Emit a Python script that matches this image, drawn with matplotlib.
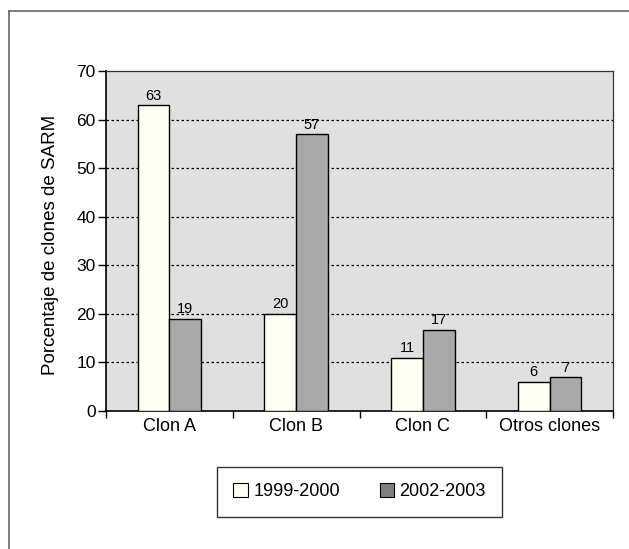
import matplotlib
matplotlib.use("Agg")
import matplotlib.pyplot as plt
from matplotlib.lines import Line2D
from matplotlib.patches import Patch
import numpy as np

categories = ["Clon A", "Clon B", "Clon C", "Otros clones"]
period_1999 = [63, 20, 11, 6]
period_2002 = [19, 57, 16.7, 7]
series_labels = ["1999-2000", "2002-2003"]
y_ticks = [0, 10, 20, 30, 40, 50, 60, 70]

plt.rcParams["font.family"] = ["Liberation Sans", "DejaVu Sans"]

fig = plt.figure(figsize=(6.29, 5.49), dpi=100)
ax = fig.add_axes([106 / 629, 1 - 411 / 549, 507 / 629, 340 / 549])
ax.set_facecolor("#e0e0e0")

x = np.arange(len(categories))
width = 0.25
light = "#fffff3"
dark = "#a9a9a9"

bars1 = ax.bar(x - width / 2, period_1999, width, color=light, edgecolor="black", linewidth=1.0, zorder=3)
bars2 = ax.bar(x + width / 2, period_2002, width, color=dark, edgecolor="black", linewidth=1.0, zorder=3)

for bars in (bars1, bars2):
    for bar in bars:
        h = bar.get_height()
        ax.text(bar.get_x() + bar.get_width() / 2, h + 0.5, f"{h:.0f}",
                ha="center", va="bottom", fontsize=10.5, zorder=4)

ax.set_xlim(-0.5, len(categories) - 0.5)
ax.set_ylim(0, 70)
ax.set_yticks(y_ticks)
ax.tick_params(axis="y", labelsize=12.5, direction="out", length=5.5, width=1, pad=2)

ax.set_xticks(x)
ax.set_xticklabels(categories, fontsize=13)
ax.set_xticks(np.arange(-0.5, len(categories), 1.0), minor=True)
ax.tick_params(axis="x", which="major", length=0, pad=5)
ax.tick_params(axis="x", which="minor", length=5, width=1, direction="out")

for yv in y_ticks[1:-1]:
    ax.axhline(yv, color="black", linestyle=(0, (2, 2)), linewidth=0.9, zorder=1)

for side in ("left", "bottom"):
    ax.spines[side].set_color("black")
    ax.spines[side].set_linewidth(1.2)
for side in ("top", "right"):
    ax.spines[side].set_color("#333333")
    ax.spines[side].set_linewidth(0.9)

ax.set_ylabel("Porcentaje de clones de SARM", fontsize=13.5)
ax.yaxis.set_label_coords(-0.093, 0.488)

# outer frame (only left and top edges visible)
fig.add_artist(Line2D([9 / 629, 9 / 629], [0, 1 - 11 / 549], transform=fig.transFigure,
                      color="#666666", linewidth=1.2))
fig.add_artist(Line2D([9 / 629, 1], [1 - 11 / 549, 1 - 11 / 549], transform=fig.transFigure,
                      color="#666666", linewidth=1.2))

handles = [Patch(facecolor=light, edgecolor="black", linewidth=0.8),
           Patch(facecolor="#808080", edgecolor="black", linewidth=0.8)]
leg = fig.legend(handles, series_labels, loc="center", ncol=2,
                 bbox_to_anchor=(0.5716, 0.104), bbox_transform=fig.transFigure,
                 fontsize=13, frameon=True, fancybox=False, edgecolor="black",
                 handlelength=0.8, handleheight=0.8, handletextpad=0.3,
                 columnspacing=2.2, borderpad=0.9)
leg.get_frame().set_linewidth(1.0)

plt.savefig("out.png", dpi=100)
plt.close()
